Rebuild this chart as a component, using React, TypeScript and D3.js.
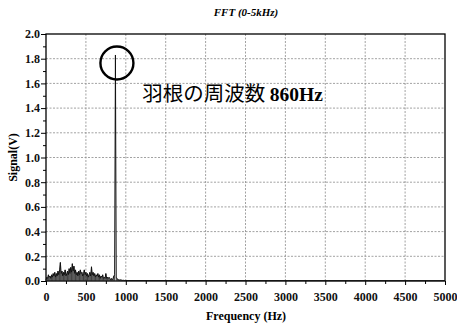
import React, { useEffect, useRef } from "react";
import * as d3 from "d3";

// FFT amplitude, 10 Hz bins from 0 to 1000 Hz (V)
const binStep = 10;
const amplitudes = [
  0.01, 0.03, 0.02, 0.05, 0.03, 0.04, 0.02, 0.05, 0.03, 0.06,
  0.04, 0.07, 0.03, 0.06, 0.04, 0.08, 0.05, 0.09, 0.15, 0.06,
  0.08, 0.04, 0.07, 0.05, 0.09, 0.04, 0.06, 0.08, 0.05, 0.1,
  0.06, 0.11, 0.07, 0.14, 0.08, 0.12, 0.06, 0.09, 0.05, 0.07,
  0.04, 0.08, 0.05, 0.09, 0.06, 0.07, 0.04, 0.06, 0.09, 0.05,
  0.07, 0.04, 0.06, 0.03, 0.05, 0.07, 0.04, 0.115, 0.05, 0.07,
  0.04, 0.06, 0.03, 0.05, 0.04, 0.06, 0.03, 0.05, 0.02, 0.04,
  0.03, 0.05, 0.02, 0.03, 0.02, 0.06, 0.02, 0.03, 0.02, 0.03,
  0.02, 0.01, 0.02, 0.01, 0.02, 0.04, 0.05, 1.83, 0.03, 0.02,
  0.01, 0.01, 0.008, 0.01, 0.006, 0.008, 0.005, 0.006, 0.004, 0.005,
  0.004,
];
const tailFreqs = [1000, 5000];
const tailValues = [0.004, 0.003];

const xTicks = [0, 500, 1000, 1500, 2000, 2500, 3000, 3500, 4000, 4500, 5000];
const yTicks = [0.0, 0.2, 0.4, 0.6, 0.8, 1.0, 1.2, 1.4, 1.6, 1.8, 2.0];

const peakFreq = 870;
const peakLabel = "羽根の周波数 ";
const peakLabelHz = "860Hz";

function App() {
  const svgRef = useRef<SVGSVGElement>(null);

  useEffect(() => {
    const w = 457;
    const h = 324;
    const m = { top: 34, right: 12, bottom: 43, left: 46 };
    const svg = d3.select(svgRef.current);
    svg.selectAll("*").remove();

    const x = d3.scaleLinear().domain([0, 5000]).range([m.left, w - m.right]);
    const y = d3.scaleLinear().domain([0, 2]).range([h - m.bottom, m.top]);

    const g = svg.append("g");

    // grid
    g.selectAll(".gx")
      .data(xTicks.slice(1, -1))
      .join("line")
      .attr("x1", (d) => x(d))
      .attr("x2", (d) => x(d))
      .attr("y1", y(0))
      .attr("y2", y(2))
      .attr("stroke", "#8a8a8a")
      .attr("stroke-width", 0.8)
      .attr("stroke-dasharray", "2,1.5");
    g.selectAll(".gy")
      .data(yTicks.slice(1, -1))
      .join("line")
      .attr("x1", x(0))
      .attr("x2", x(5000))
      .attr("y1", (d) => y(d))
      .attr("y2", (d) => y(d))
      .attr("stroke", "#8a8a8a")
      .attr("stroke-width", 0.8)
      .attr("stroke-dasharray", "2,1.5");

    // frame
    g.append("rect")
      .attr("x", x(0))
      .attr("y", y(2))
      .attr("width", x(5000) - x(0))
      .attr("height", y(0) - y(2))
      .attr("fill", "none")
      .attr("stroke", "#000")
      .attr("stroke-width", 1.3);

    // axes
    const font = "'Liberation Serif', 'Times New Roman', serif";
    const xAxis = g
      .append("g")
      .attr("transform", `translate(0,${y(0)})`)
      .call(
        d3.axisBottom(x).tickValues(xTicks).tickSize(4).tickFormat(d3.format("d"))
      );
    xAxis.select(".domain").remove();
    xAxis
      .selectAll("text")
      .attr("font-family", font)
      .attr("font-size", 12)
      .attr("font-weight", "bold")
      .attr("fill", "#111")
      .attr("dy", "1.05em");
    g.append("g")
      .attr("transform", `translate(0,${y(0)})`)
      .call(
        d3.axisBottom(x).tickValues(d3.range(250, 5000, 500)).tickSize(3).tickFormat(() => "")
      )
      .select(".domain")
      .remove();

    const yAxis = g
      .append("g")
      .attr("transform", `translate(${x(0)},0)`)
      .call(d3.axisLeft(y).tickValues(yTicks).tickSize(5).tickFormat(d3.format(".1f")));
    yAxis.select(".domain").remove();
    yAxis
      .selectAll("text")
      .attr("font-family", font)
      .attr("font-size", 12)
      .attr("font-weight", "bold")
      .attr("fill", "#111")
      .attr("x", -6);
    g.append("g")
      .attr("transform", `translate(${x(0)},0)`)
      .call(
        d3.axisLeft(y).tickValues(d3.range(0.1, 2, 0.2)).tickSize(3).tickFormat(() => "")
      )
      .select(".domain")
      .remove();

    // spectrum: stems + outline
    const pts: [number, number][] = amplitudes.map((v, i) => [i * binStep, v]);
    g.selectAll(".stem")
      .data(pts.filter((d) => d[1] < 1))
      .join("line")
      .attr("x1", (d) => x(d[0]))
      .attr("x2", (d) => x(d[0]))
      .attr("y1", y(0))
      .attr("y2", (d) => y(d[1]))
      .attr("stroke", "#222")
      .attr("stroke-width", 0.8);
    tailFreqs.forEach((f, i) => pts.push([f, tailValues[i]]));
    const line = d3
      .line<[number, number]>()
      .x((d) => x(d[0]))
      .y((d) => y(d[1]));
    g.append("path")
      .datum(pts)
      .attr("d", line)
      .attr("fill", "none")
      .attr("stroke", "#111")
      .attr("stroke-width", 1);

    // annotation
    g.append("circle")
      .attr("cx", x(peakFreq) + 1.5)
      .attr("cy", y(1.765))
      .attr("r", 16.5)
      .attr("fill", "none")
      .attr("stroke", "#000")
      .attr("stroke-width", 2.4);
    const t = g
      .append("text")
      .attr("x", x(1205))
      .attr("y", y(1.455))
      .attr("fill", "#000");
    t.append("tspan")
      .attr("font-family", "'Noto Sans CJK JP', sans-serif")
      .attr("font-size", 20.5)
      .text(peakLabel);
    t.append("tspan")
      .attr("font-family", font)
      .attr("font-size", 19.5)
      .attr("font-weight", "bold")
      .text(peakLabelHz);

    // titles
    g.append("text")
      .attr("x", 246)
      .attr("y", 16)
      .attr("text-anchor", "middle")
      .attr("font-family", font)
      .attr("font-size", 11)
      .attr("font-weight", "bold")
      .attr("font-style", "italic")
      .text("FFT (0-5kHz)");
    g.append("text")
      .attr("x", 246)
      .attr("y", 320)
      .attr("text-anchor", "middle")
      .attr("font-family", font)
      .attr("font-size", 12)
      .attr("font-weight", "bold")
      .text("Frequency (Hz)");
    g.append("text")
      .attr("transform", `translate(17,${(y(0) + y(2)) / 2}) rotate(-90)`)
      .attr("text-anchor", "middle")
      .attr("font-family", font)
      .attr("font-size", 12)
      .attr("font-weight", "bold")
      .text("Signal(V)");
  }, []);

  return (
    <div style={{ position: "absolute", left: 0, top: 0 }}>
      <svg ref={svgRef} width={457} height={324} style={{ display: "block", background: "#fff" }}></svg>
    </div>
  );
}

export default App;
